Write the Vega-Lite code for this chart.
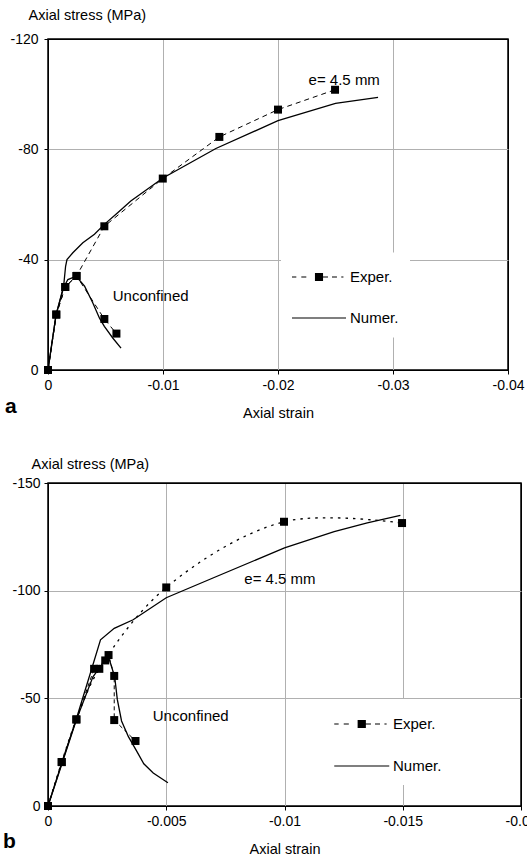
{
  "$schema": "https://vega.github.io/schema/vega-lite/v6.json",
  "background": "white",
  "padding": {"top": 6, "left": 2, "right": 0, "bottom": 0},
  "spacing": 34,
  "config": {
    "font": "Liberation Sans",
    "view": {"stroke": "black", "strokeWidth": 1.5},
    "axis": {
      "labelFont": "Liberation Sans", "titleFont": "Liberation Sans",
      "labelFontSize": 14, "titleFontSize": 14.5, "titleFontWeight": "normal",
      "labelColor": "black", "titleColor": "black",
      "tickColor": "black", "tickSize": 4, "domain": false,
      "labelFlush": false, "labelOverlap": false,
      "labelExpr": "datum.value == 0 ? '0' : replace(format(datum.value, '~g'), '−', '-')"
    },
    "title": {"font": "Liberation Sans", "color": "black"}
  },
  "datasets": {
    "a_num": [
      {"curve": "conf", "i": 0, "strain": 0, "stress": 0},
      {"curve": "conf", "i": 1, "strain": -0.0007, "stress": -20},
      {"curve": "conf", "i": 2, "strain": -0.00136, "stress": -30.4},
      {"curve": "conf", "i": 3, "strain": -0.00153, "stress": -37.6},
      {"curve": "conf", "i": 4, "strain": -0.00165, "stress": -40},
      {"curve": "conf", "i": 5, "strain": -0.00216, "stress": -42.5},
      {"curve": "conf", "i": 6, "strain": -0.00303, "stress": -46.1},
      {"curve": "conf", "i": 7, "strain": -0.00404, "stress": -49.2},
      {"curve": "conf", "i": 8, "strain": -0.0049, "stress": -52.8},
      {"curve": "conf", "i": 9, "strain": -0.00606, "stress": -57},
      {"curve": "conf", "i": 10, "strain": -0.0072, "stress": -61.3},
      {"curve": "conf", "i": 11, "strain": -0.01, "stress": -69.6},
      {"curve": "conf", "i": 12, "strain": -0.0146, "stress": -80.3},
      {"curve": "conf", "i": 13, "strain": -0.02, "stress": -90.4},
      {"curve": "conf", "i": 14, "strain": -0.025, "stress": -96.7},
      {"curve": "conf", "i": 15, "strain": -0.0287, "stress": -98.8},
      {"curve": "unconf", "i": 0, "strain": 0, "stress": 0},
      {"curve": "unconf", "i": 1, "strain": -0.0007, "stress": -20},
      {"curve": "unconf", "i": 2, "strain": -0.00136, "stress": -30},
      {"curve": "unconf", "i": 3, "strain": -0.00173, "stress": -32.8},
      {"curve": "unconf", "i": 4, "strain": -0.00245, "stress": -34},
      {"curve": "unconf", "i": 5, "strain": -0.00318, "stress": -30.4},
      {"curve": "unconf", "i": 6, "strain": -0.0039, "stress": -24.3},
      {"curve": "unconf", "i": 7, "strain": -0.00448, "stress": -18.8},
      {"curve": "unconf", "i": 8, "strain": -0.0049, "stress": -15.8},
      {"curve": "unconf", "i": 9, "strain": -0.00563, "stress": -11.6},
      {"curve": "unconf", "i": 10, "strain": -0.00635, "stress": -7.9}
    ],
    "a_exp": [
      {"curve": "conf", "i": 0, "strain": 0, "stress": 0},
      {"curve": "conf", "i": 1, "strain": -0.00072, "stress": -20.1},
      {"curve": "conf", "i": 2, "strain": -0.0015, "stress": -30.1},
      {"curve": "conf", "i": 3, "strain": -0.00248, "stress": -34.1},
      {"curve": "conf", "i": 4, "strain": -0.0049, "stress": -52.1},
      {"curve": "conf", "i": 5, "strain": -0.00998, "stress": -69.4},
      {"curve": "conf", "i": 6, "strain": -0.0149, "stress": -84.5},
      {"curve": "conf", "i": 7, "strain": -0.02, "stress": -94.4},
      {"curve": "conf", "i": 8, "strain": -0.02496, "stress": -101.6},
      {"curve": "unconf", "i": 0, "strain": 0, "stress": 0},
      {"curve": "unconf", "i": 1, "strain": -0.00072, "stress": -20.1},
      {"curve": "unconf", "i": 2, "strain": -0.0015, "stress": -30.1},
      {"curve": "unconf", "i": 3, "strain": -0.00248, "stress": -34.1},
      {"curve": "unconf", "i": 4, "strain": -0.0049, "stress": -18.5},
      {"curve": "unconf", "i": 5, "strain": -0.00595, "stress": -13.2}
    ],
    "a_text": [
      {"label": "e= 4.5 mm", "strain": -0.02266, "stress": -105.3},
      {"label": "Unconfined", "strain": -0.00563, "stress": -26.7}
    ],
    "b_num": [
      {"curve": "conf", "i": 0, "strain": 0, "stress": 0},
      {"curve": "conf", "i": 1, "strain": -0.0006, "stress": -20.5},
      {"curve": "conf", "i": 2, "strain": -0.0012, "stress": -40.5},
      {"curve": "conf", "i": 3, "strain": -0.0018, "stress": -62},
      {"curve": "conf", "i": 4, "strain": -0.00222, "stress": -77.2},
      {"curve": "conf", "i": 5, "strain": -0.0028, "stress": -82.5},
      {"curve": "conf", "i": 6, "strain": -0.0036, "stress": -86.5},
      {"curve": "conf", "i": 7, "strain": -0.005, "stress": -96.7},
      {"curve": "conf", "i": 8, "strain": -0.007, "stress": -106},
      {"curve": "conf", "i": 9, "strain": -0.01, "stress": -119.9},
      {"curve": "conf", "i": 10, "strain": -0.0121, "stress": -127.4},
      {"curve": "conf", "i": 11, "strain": -0.0135, "stress": -131.5},
      {"curve": "conf", "i": 12, "strain": -0.0149, "stress": -135},
      {"curve": "unconf", "i": 0, "strain": 0, "stress": 0},
      {"curve": "unconf", "i": 1, "strain": -0.0006, "stress": -20},
      {"curve": "unconf", "i": 2, "strain": -0.0012, "stress": -40},
      {"curve": "unconf", "i": 3, "strain": -0.0019, "stress": -60},
      {"curve": "unconf", "i": 4, "strain": -0.0023, "stress": -66},
      {"curve": "unconf", "i": 5, "strain": -0.0026, "stress": -67.8},
      {"curve": "unconf", "i": 6, "strain": -0.00282, "stress": -60},
      {"curve": "unconf", "i": 7, "strain": -0.00293, "stress": -49.5},
      {"curve": "unconf", "i": 8, "strain": -0.00311, "stress": -39.5},
      {"curve": "unconf", "i": 9, "strain": -0.0034, "stress": -32.2},
      {"curve": "unconf", "i": 10, "strain": -0.00375, "stress": -25.5},
      {"curve": "unconf", "i": 11, "strain": -0.00405, "stress": -19.6},
      {"curve": "unconf", "i": 12, "strain": -0.00445, "stress": -15.3},
      {"curve": "unconf", "i": 13, "strain": -0.00507, "stress": -10.8}
    ],
    "b_exp_conf": [
      {"i": 0, "strain": 0, "stress": 0},
      {"i": 1, "strain": -0.00058, "stress": -20.4},
      {"i": 2, "strain": -0.0012, "stress": -40.2},
      {"i": 3, "strain": -0.00217, "stress": -63.7},
      {"i": 4, "strain": -0.005, "stress": -101.5},
      {"i": 5, "strain": -0.00998, "stress": -132},
      {"i": 6, "strain": -0.01497, "stress": -131.4}
    ],
    "b_exp_unconf": [
      {"i": 0, "strain": 0, "stress": 0},
      {"i": 1, "strain": -0.00058, "stress": -20.4},
      {"i": 2, "strain": -0.0012, "stress": -40.2},
      {"i": 3, "strain": -0.00195, "stress": -63.7},
      {"i": 4, "strain": -0.00242, "stress": -67.6},
      {"i": 5, "strain": -0.00256, "stress": -70.1},
      {"i": 6, "strain": -0.0028, "stress": -60.4},
      {"i": 7, "strain": -0.0028, "stress": -39.9},
      {"i": 8, "strain": -0.0037, "stress": -30.2}
    ],
    "b_text": [
      {"label": "e= 4.5 mm", "strain": -0.0083, "stress": -105.3},
      {"label": "Unconfined", "strain": -0.00443, "stress": -41.8}
    ],
    "legend": [
      {"series": "Exper.", "strain": 0, "stress": 0},
      {"series": "Numer.", "strain": 0, "stress": 0}
    ]
  },
  "vconcat": [
    {
      "width": 460,
      "height": 331,
      "title": {"text": "a", "orient": "bottom", "anchor": "start", "frame": "group", "fontSize": 21, "fontWeight": "bold", "dx": -43, "dy": -24, "offset": 0},
      "encoding": {
        "x": {"field": "strain", "type": "quantitative",
          "scale": {"domain": [0, -0.04], "nice": false, "zero": false},
          "axis": {"values": [0, -0.01, -0.02, -0.03, -0.04], "title": "Axial strain", "labelPadding": 4, "titlePadding": 14,
            "gridColor": {"condition": {"test": "abs(datum.value) < 1e-9 || abs(datum.value + 0.04) < 1e-9", "value": "black"}, "value": "#b0b0b0"}}},
        "y": {"field": "stress", "type": "quantitative",
          "scale": {"domain": [0, -120], "nice": false, "zero": false},
          "axis": {"values": [0, -40, -80, -120], "title": "Axial stress (MPa)", "labelPadding": 6,
            "titleAngle": 0, "titleAlign": "left", "titleBaseline": "middle", "titleX": -20, "titleY": -24,
            "gridColor": {"condition": {"test": "abs(datum.value) < 1e-9 || abs(datum.value + 120) < 1e-9", "value": "black"}, "value": "#b0b0b0"}}}
      },
      "layer": [
        {"data": {"name": "a_num"}, "mark": {"type": "line", "color": "black", "strokeWidth": 1.3},
         "encoding": {"detail": {"field": "curve"}, "order": {"field": "i"}}},
        {"data": {"name": "a_exp"}, "mark": {"type": "line", "color": "black", "strokeWidth": 1, "strokeDash": [5, 4]},
         "encoding": {"detail": {"field": "curve"}, "order": {"field": "i"}}},
        {"data": {"name": "a_exp"}, "mark": {"type": "square", "color": "black", "filled": true, "size": 64, "opacity": 1}},
        {"data": {"name": "a_text"}, "mark": {"type": "text", "align": "left", "baseline": "middle", "fontSize": 15, "color": "black"},
         "encoding": {"text": {"field": "label"}}},
        {"data": {"name": "legend"}, "mark": {"type": "point", "opacity": 0, "filled": true, "color": "black"},
         "encoding": {"shape": {"field": "series", "type": "nominal",
           "scale": {"domain": ["Exper.", "Numer."], "range": [
             "M-1,-0.04H-0.68V0.04H-1Z M-0.31,-0.04H0.06V0.04H-0.31Z M0.7,-0.3H1.3V0.3H0.7Z M1.3,-0.04H1.67V0.04H1.3Z M1.96,-0.04H2.33V0.04H1.96Z M2.65,-0.04H2.81V0.04H2.65Z",
             "M-1,-0.04H3V0.04H-1Z"]},
           "legend": {"orient": "none", "legendX": 233, "legendY": 213.5, "title": null, "fillColor": "white", "padding": 11,
             "labelFontSize": 15, "labelFont": "Liberation Sans", "labelColor": "black", "symbolSize": 729,
             "symbolFillColor": "black", "symbolStrokeWidth": 0, "symbolOpacity": 1, "rowPadding": 19, "labelOffset": 31,
             "encode": {"symbols": {"update": {"opacity": {"value": 1}, "fill": {"value": "black"}, "stroke": {"value": "transparent"}}}}}}}}
      ]
    },
    {
      "width": 473,
      "height": 323,
      "title": {"text": "b", "orient": "bottom", "anchor": "start", "frame": "group", "fontSize": 21, "fontWeight": "bold", "dx": -45, "dy": -25, "offset": 0},
      "encoding": {
        "x": {"field": "strain", "type": "quantitative",
          "scale": {"domain": [0, -0.02], "nice": false, "zero": false},
          "axis": {"values": [0, -0.005, -0.01, -0.015, -0.02], "title": "Axial strain", "labelPadding": 4, "titlePadding": 14,
            "gridColor": {"condition": {"test": "abs(datum.value) < 1e-9 || abs(datum.value + 0.02) < 1e-9", "value": "black"}, "value": "#b0b0b0"}}},
        "y": {"field": "stress", "type": "quantitative",
          "scale": {"domain": [0, -150], "nice": false, "zero": false},
          "axis": {"values": [0, -50, -100, -150], "title": "Axial stress (MPa)", "labelPadding": 4,
            "titleAngle": 0, "titleAlign": "left", "titleBaseline": "middle", "titleX": -17, "titleY": -19,
            "gridColor": {"condition": {"test": "abs(datum.value) < 1e-9 || abs(datum.value + 150) < 1e-9", "value": "black"}, "value": "#b0b0b0"}}}
      },
      "layer": [
        {"data": {"name": "b_num"}, "mark": {"type": "line", "color": "black", "strokeWidth": 1.3},
         "encoding": {"detail": {"field": "curve"}, "order": {"field": "i"}}},
        {"data": {"name": "b_exp_conf"}, "mark": {"type": "line", "color": "black", "strokeWidth": 1.3, "strokeDash": [2.5, 5], "interpolate": "catmull-rom"},
         "encoding": {"order": {"field": "i"}}},
        {"data": {"name": "b_exp_unconf"}, "mark": {"type": "line", "color": "black", "strokeWidth": 1, "strokeDash": [4, 3]},
         "encoding": {"order": {"field": "i"}}},
        {"data": {"name": "b_exp_conf"}, "mark": {"type": "square", "color": "black", "filled": true, "size": 64, "opacity": 1}},
        {"data": {"name": "b_exp_unconf"}, "mark": {"type": "square", "color": "black", "filled": true, "size": 64, "opacity": 1}},
        {"data": {"name": "b_text"}, "mark": {"type": "text", "align": "left", "baseline": "middle", "fontSize": 15, "color": "black"},
         "encoding": {"text": {"field": "label"}}},
        {"data": {"name": "legend"}, "mark": {"type": "point", "opacity": 0, "filled": true, "color": "black"},
         "encoding": {"shape": {"field": "series", "type": "nominal",
           "scale": {"domain": ["Exper.", "Numer."], "range": [
             "M-1,-0.04H-0.68V0.04H-1Z M-0.31,-0.04H0.06V0.04H-0.31Z M0.7,-0.3H1.3V0.3H0.7Z M1.3,-0.04H1.67V0.04H1.3Z M1.96,-0.04H2.33V0.04H1.96Z M2.65,-0.04H2.81V0.04H2.65Z",
             "M-1,-0.04H3V0.04H-1Z"]},
           "legend": {"orient": "none", "legendX": 275, "legendY": 216, "title": null, "fillColor": "white", "padding": 11,
             "labelFontSize": 15, "labelFont": "Liberation Sans", "labelColor": "black", "symbolSize": 756,
             "symbolFillColor": "black", "symbolStrokeWidth": 0, "symbolOpacity": 1, "rowPadding": 20, "labelOffset": 31,
             "encode": {"symbols": {"update": {"opacity": {"value": 1}, "fill": {"value": "black"}, "stroke": {"value": "transparent"}}}}}}}}
      ]
    }
  ],
  "resolve": {"scale": {"shape": "independent", "x": "independent", "y": "independent"}, "legend": {"shape": "independent"}}
}
